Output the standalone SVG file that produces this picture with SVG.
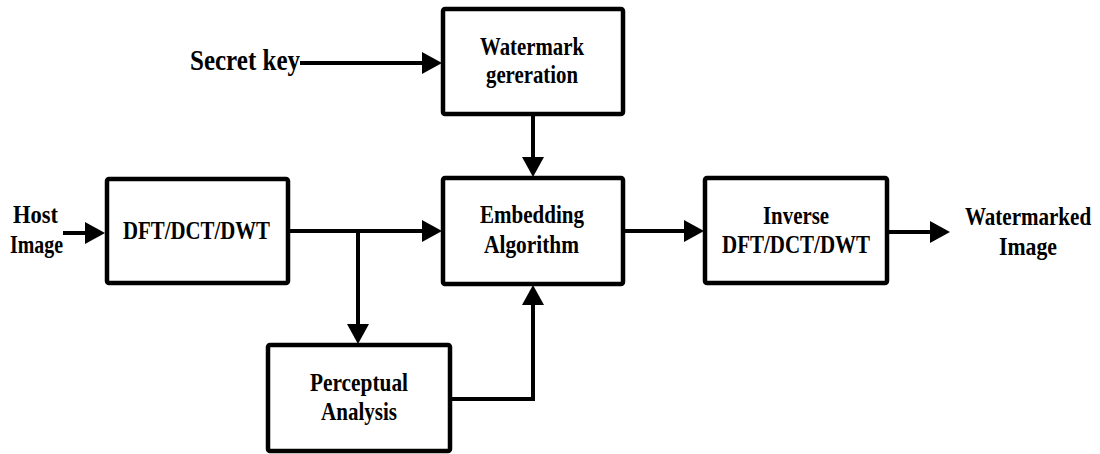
<svg xmlns="http://www.w3.org/2000/svg" width="1100" height="454" viewBox="0 0 1100 454">
  <style>
    .box { fill: #ffffff; stroke: #000000; stroke-width: 4.5; }
    .wire { fill: none; stroke: #000000; stroke-width: 4; stroke-linejoin: miter; }
    .arrow { marker-end: url(#head); }
    .lbl { font-family: 'Liberation Serif', 'Times New Roman', 'DejaVu Serif', serif; font-weight: 700; font-size: 26px; fill: #000000; }
    .big { font-size: 29px; }
  </style>
  <defs>
    <marker id="head" markerUnits="userSpaceOnUse" markerWidth="22" markerHeight="22" refX="10" refY="11" orient="auto">
      <path d="M0,0 L20,11 L0,22 Z" fill="#000000"/>
    </marker>
  </defs>

  <rect width="1100" height="454" fill="#ffffff"/>

  <!-- connectors -->
  <g id="connectors">
    <!-- secret key into watermark generation -->
    <path class="wire arrow" d="M300,63 L432,63"/>
    <!-- watermark generation down to embedding -->
    <path class="wire arrow" d="M533,114 L533,167"/>
    <!-- host image into transform -->
    <path class="wire arrow" d="M63,233 L95,233"/>
    <!-- transform output into embedding -->
    <path class="wire arrow" d="M288,231 L432,231"/>
    <!-- branch down to perceptual analysis -->
    <path class="wire arrow" d="M358,231 L358,334"/>
    <!-- perceptual analysis up into embedding -->
    <path class="wire arrow" d="M450,399 L533,399 L533,295"/>
    <!-- embedding to inverse transform -->
    <path class="wire arrow" d="M623,231 L694,231"/>
    <!-- inverse transform output -->
    <path class="wire arrow" d="M887,232 L940,232"/>
  </g>

  <!-- free labels -->
  <g id="label-secret-key" class="lbl">
    <text class="big" x="190" y="70" textLength="110" lengthAdjust="spacingAndGlyphs">Secret key</text>
  </g>
  <g id="label-host-image" class="lbl">
    <text x="13" y="223" textLength="45" lengthAdjust="spacingAndGlyphs">Host</text>
    <text x="10" y="253" textLength="53" lengthAdjust="spacingAndGlyphs">Image</text>
  </g>
  <g id="label-watermarked-image" class="lbl">
    <text transform="translate(1028,225) scale(0.81,1)" text-anchor="middle">Watermarked</text>
    <text x="999" y="255" textLength="58" lengthAdjust="spacingAndGlyphs">Image</text>
  </g>

  <!-- nodes -->
  <g id="node-watermark-generation" class="lbl">
    <rect class="box" x="443" y="9" width="180" height="105" rx="2"/>
    <text x="480" y="55" textLength="104" lengthAdjust="spacingAndGlyphs">Watermark</text>
    <text x="486" y="83" textLength="92" lengthAdjust="spacingAndGlyphs">gereration</text>
  </g>

  <g id="node-transform" class="lbl">
    <rect class="box" x="107" y="179" width="181" height="104" rx="2"/>
    <text x="123" y="239" textLength="147" lengthAdjust="spacingAndGlyphs">DFT/DCT/DWT</text>
  </g>

  <g id="node-embedding" class="lbl">
    <rect class="box" x="443" y="178" width="180" height="106" rx="2"/>
    <text x="480" y="223" textLength="104" lengthAdjust="spacingAndGlyphs">Embedding</text>
    <text x="484" y="253" textLength="95" lengthAdjust="spacingAndGlyphs">Algorithm</text>
  </g>

  <g id="node-inverse" class="lbl">
    <rect class="box" x="705" y="178" width="182" height="105" rx="2"/>
    <text x="763" y="224" textLength="66" lengthAdjust="spacingAndGlyphs">Inverse</text>
    <text x="722" y="253" textLength="148" lengthAdjust="spacingAndGlyphs">DFT/DCT/DWT</text>
  </g>

  <g id="node-perceptual" class="lbl">
    <rect class="box" x="268" y="345" width="182" height="106" rx="2"/>
    <text x="310" y="391" textLength="98" lengthAdjust="spacingAndGlyphs">Perceptual</text>
    <text x="321" y="420" textLength="76" lengthAdjust="spacingAndGlyphs">Analysis</text>
  </g>
</svg>
